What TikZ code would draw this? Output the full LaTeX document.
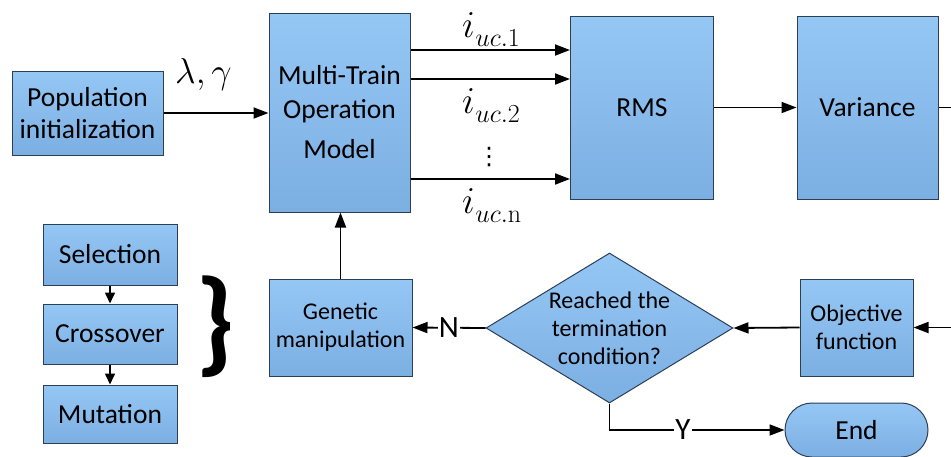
\documentclass[tikz,border=0pt]{standalone}
\usepackage{fix-cm}
\usepackage[no-math]{fontspec}
\setmainfont{Carlito}
\newfontfamily\dejavu{DejaVu Sans}
\usetikzlibrary{arrows.meta,shapes.geometric}
\definecolor{bxtop}{RGB}{149,199,245}
\definecolor{bxbot}{RGB}{124,175,226}
\definecolor{bxline}{RGB}{45,62,85}
\newcommand{\bigtxt}{\fontsize{27.5}{32}\selectfont}
\newcommand{\smtxt}{\fontsize{24}{28}\selectfont}
\newcommand{\mathtxt}{\fontsize{38}{40}\selectfont}
\newcommand{\subsz}{\fontsize{26}{28}\selectfont}
\newcommand{\isub}[1]{$i$\kern0.5pt\raisebox{-9pt}{\subsz$uc.\mathrm{#1}$}}
\begin{document}
\begin{tikzpicture}[x=1pt,y=-1pt,
  box/.style={draw=bxline, line width=1pt, top color=bxtop, bottom color=bxbot, inner sep=0pt, align=center},
  arr/.style={line width=1.8pt, -{Triangle[length=15pt,width=11pt]}},
  sarr/.style={line width=1.6pt, -{Triangle[length=11pt,width=10pt]}},
  plain/.style={line width=1.8pt},
  lbl/.style={fill=white, inner sep=1pt, font=\fontsize{31}{34}\selectfont},
  mlbl/.style={inner sep=0pt, anchor=base west, font=\mathtxt}]
\useasboundingbox (0,0) rectangle (951,456);
% boxes
\node[box, minimum width=151pt, minimum height=84pt, font=\bigtxt] (pop) at (87.5,113) {Population\\initialization};
\node[box, minimum width=141pt, minimum height=199pt, font=\fontsize{27.5}{34}\selectfont] (multi) at (339.5,112.5) {Multi-Train\\Operation\\[6pt]Model};
\node[box, minimum width=143pt, minimum height=183pt, font=\bigtxt] (rms) at (642,107.5) {RMS};
\node[box, minimum width=141pt, minimum height=183pt, font=\bigtxt] (var) at (867.5,107.5) {Variance};
\node[box, minimum width=134pt, minimum height=61pt, font=\bigtxt] (sel) at (110,254.5) {Selection};
\node[box, minimum width=134pt, minimum height=60pt, font=\bigtxt] (cro) at (110,334) {Crossover};
\node[box, minimum width=134pt, minimum height=58pt, font=\bigtxt] (mut) at (110,414) {Mutation};
\node[box, minimum width=143pt, minimum height=97pt, font=\smtxt] (gen) at (340.5,327.5) {Genetic\\manipulation};
\node[box, minimum width=113pt, minimum height=97pt, font=\smtxt] (obj) at (856.5,327.5) {Objective\\function};
\node[box, diamond, aspect=1.65, minimum width=247pt, minimum height=150pt] (cond) at (609.5,328) {};
\node[align=center, inner sep=0pt, font=\smtxt] (condtxt) at (cond.center) {Reached the\\termination\\condition?};
\node[box, rounded corners=27pt, minimum width=143pt, minimum height=54pt, font=\bigtxt] (endn) at (856.5,430) {End};
% brace
\node[inner sep=0pt, font=\fontsize{116}{120}\selectfont\bfseries] (brace) at (215,327) {\}};
% labels
\node[mlbl, font=\fontsize{36}{40}\selectfont] (lg) at (175,83) {$\lambda,\gamma$};
\node[mlbl] (l1) at (462,37) {\isub{1}};
\node[mlbl] (l2) at (462,113) {\isub{2}};
\node[inner sep=0pt, font=\dejavu\fontsize{24}{26}\selectfont] (ldots) at (489,157) {⋮};
\node[mlbl] (ln) at (462,213) {\isub{n}};
% edge coordinates
\coordinate (rightA) at (951,107.5);
\coordinate (rightB) at (951,327.5);
% connectors
\draw[arr] (pop.east) -- (pop.east -| multi.west);
\draw[arr] ([yshift=62.5pt]multi.east) coordinate (m1) -- (m1 -| rms.west);
\draw[arr] ([yshift=33.5pt]multi.east) coordinate (m2) -- (m2 -| rms.west);
\draw[arr] ([yshift=-66.5pt]multi.east) coordinate (m3) -- (m3 -| rms.west);
\draw[arr] (rms.east) -- (var.west);
\draw[plain] (var.east) -- (rightA);
\draw[arr] (rightB) -- (obj.east);
\draw[arr] (obj.west) -- (cond.east);
\draw[arr] (cond.west) -- node[lbl] (nlbl) {N} (gen.east);
\draw[arr] (gen.north) -- (gen.north |- multi.south);
\draw[arr] (cond.south) |- node[lbl, pos=0.71] (ylbl) {Y} (endn.west);
\draw[sarr] (sel.south) -- (cro.north);
\draw[sarr] (cro.south) -- (mut.north);
\end{tikzpicture}
\end{document}
